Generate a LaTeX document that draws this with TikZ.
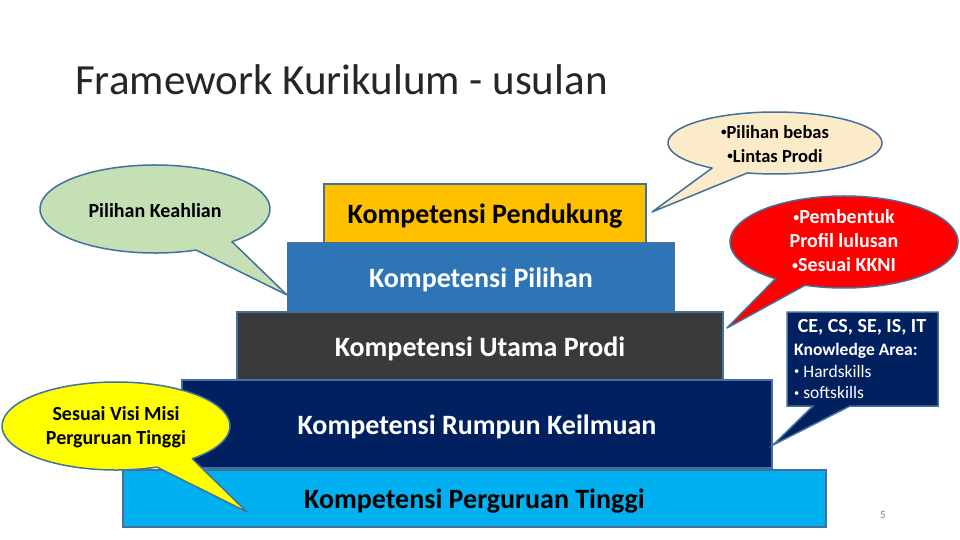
\documentclass[tikz,border=0pt]{standalone}
\usepackage{fontspec}
\usepackage{graphicx}
\setmainfont{Carlito}
\newcommand\mybul{\raisebox{0.3ex}{\scalebox{0.6}{•}}}
\definecolor{cpend}{HTML}{FFC000}
\definecolor{cpil}{HTML}{2E75B6}
\definecolor{cutama}{HTML}{3A3A3A}
\definecolor{crump}{HTML}{002060}
\definecolor{cpt}{HTML}{00B0F0}
\definecolor{cedge}{HTML}{41719C}
\definecolor{cgreen}{HTML}{C5E0B4}
\definecolor{cbeige}{HTML}{FCEBC8}
\definecolor{cyel}{HTML}{FFFF00}
\definecolor{cred}{HTML}{FF0000}
\definecolor{ctitle}{HTML}{262626}
\tikzset{
  tier/.style={draw=cedge, line width=1.2pt, rectangle, inner sep=0pt, text height=24pt, text depth=4pt, font=\fontsize{28}{32}\selectfont\bfseries},
  callout/.style={draw=cedge, line width=1.5pt, line join=round},
  ctext/.style={align=center, inner sep=0pt, font=\fontsize{20}{24}\selectfont\bfseries},
}
\begin{document}
\begin{tikzpicture}[x=1pt,y=-1pt]
\useasboundingbox (0,0) rectangle (960,540);
\fill[white] (0,0) rectangle (960,540);

% title
\node[anchor=base west, inner sep=0pt, text=ctitle, font=\fontsize{43}{47}\selectfont] (title) at (75,95) {Framework Kurikulum - usulan};

% tiers
\node[tier, fill=cpt, text=black, minimum width=703pt, minimum height=57pt] (pt) at (474.5,498.5) {Kompetensi Perguruan Tinggi};
\node[tier, fill=crump, text=white, minimum width=590pt, minimum height=88pt] (rump) at (477,424) {Kompetensi Rumpun Keilmuan};
\node[tier, fill=cutama, text=white, minimum width=486pt, minimum height=68pt] (utama) at (480,346) {Kompetensi Utama Prodi};
\node[tier, fill=cpil, text=white, minimum width=387pt, minimum height=69pt] (pil) at (481,277.5) {Kompetensi Pilihan};
\node[tier, fill=cpend, text=black, minimum width=322pt, minimum height=59pt] (pend) at (485,213.5) {Kompetensi Pendukung};

% green callout
\draw[callout, fill=cgreen] (155,209) ++(69:115 and 44)
  arc[start angle=69, end angle=408, x radius=115, y radius=44] -- (287,295) -- cycle;
\node[ctext] (keahlian) at (155,211) {Pilihan Keahlian};

% yellow callout
\draw[callout, fill=cyel] (116,426) ++(69:114 and 44)
  arc[start angle=69, end angle=408, x radius=114, y radius=44] -- (247,512) -- cycle;
\node[ctext] (visi) at (116,427) {Sesuai Visi Misi\\Perguruan Tinggi};

% beige callout
\draw[callout, fill=cbeige] (775,143) ++(126:107 and 31)
  arc[start angle=126, end angle=465, x radius=107, y radius=31] -- (652,212) -- cycle;
\node[ctext, font=\fontsize{18.5}{24}\selectfont\bfseries] (bebas) at (775,144) {\mybul Pilihan bebas\\\mybul Lintas Prodi};

% red callout
\draw[callout, fill=cred] (844,242) ++(127:114 and 46)
  arc[start angle=127, end angle=470, x radius=114, y radius=46] -- (727,328) -- cycle;
\node[ctext, text=white] (profil) at (844,241) {\mybul Pembentuk\\Profil lulusan\\\mybul Sesuai KKNI};

% rectangular callout
\draw[callout, fill=crump, line join=miter] (787,312) -- (938,312) -- (938,406) -- (850,406) -- (773,445) -- (813,406) -- (787,406) -- cycle;
\node[inner sep=0pt, text=white, font=\fontsize{20}{24}\selectfont\bfseries] (ce) at (862,327) {CE, CS, SE, IS, IT};
\node[anchor=west, inner sep=0pt, text=white, align=left, font=\fontsize{17.5}{21.5}\selectfont] (ka) at (794,371)
  {\textbf{Knowledge Area:}\\\mybul\ Hardskills\\\mybul\ softskills};

% page number
\node[inner sep=0pt, text=gray, font=\fontsize{11}{13}\selectfont] (pnum) at (883,515) {5};
\end{tikzpicture}
\end{document}
